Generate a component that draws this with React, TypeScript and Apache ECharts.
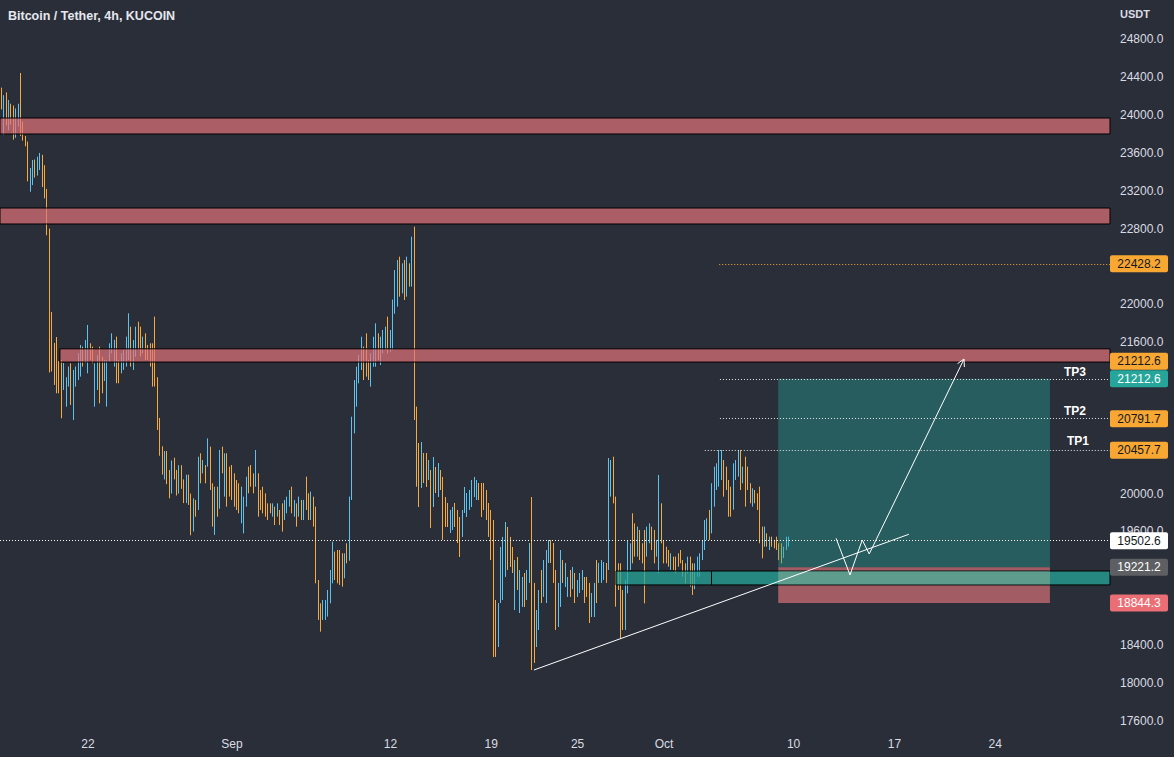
import React, { useEffect, useRef } from "react";
import * as echarts from "echarts";

// ---- OHLC bars, 4h, KUCOIN BTC/USDT: [open, close, low, high] ----
const barsAug16 = [
  [24200,24100,24060,24290],[24100,24180,23790,24210],[24180,23950,23890,24240],[23950,24080,23840,24160],
  [24080,24000,23900,24120],[24000,23800,23740,24100],[23800,23960,23760,24070],[23960,24050,23880,24120],
  [24050,23830,23780,24445],[23830,23760,23730,23930],[23760,23700,23670,23780],[23700,23330,23300,23720],
  [23330,23420,23190,23440],[23420,23500,23260,23525],[23500,23400,23340,23530],[23400,23530,23360,23560],
  [23530,23570,23420,23600],[23570,23300,23240,23580],[23300,23200,23120,23470],[23200,22760,22730,23220],
  [22760,21800,21280,22800],[21800,21350,21290,21920],
];
const barsAug19 = [
  [21550,21200,21148,21592],[21600,21150,21060,21655],[21300,21100,21060,21400],[21350,20900,20796,21412],
  [21100,21350,21095,21380],[21050,21200,20919,21230],[21200,21300,21131,21342],[21350,21000,20937,21377],
  [20950,21250,20778,21307],[21150,21300,21131,21342],[21250,21400,21200,21483],[21350,21500,21236,21571],
  [21500,21400,21342,21553],[21400,21550,21380,21624],[21450,21700,21271,21782],[21550,21450,21412,21588],
  [21500,21400,21377,21553],[21000,21300,20919,21377],[21200,21400,21095,21465],[21450,21050,20954,21553],
  [21300,21100,21060,21447],[21200,21350,21190,21412],[21050,21350,20919,21412],[21400,21500,21390,21588],
  [21500,21650,21483,21694],[21450,21580,21342,21624],[21600,21250,21166,21659],[21350,21200,21166,21412],
  [21300,21400,21271,21483],[21350,21480,21307,21518],[21400,21600,21342,21659],[21550,21800,21412,21905],
  [21700,21400,21342,21764],[21400,21550,21307,21624],[21500,21680,21447,21764],[21700,21550,21518,21817],
  [21650,21480,21450,21764],[21500,21600,21483,21659],[21620,21450,21412,21694],[21500,21450,21412,21571],
  [21500,21400,21342,21588],[21450,21200,21131,21588],[21400,21200,21131,21870],[21200,20750,20673,21230],
];
const barsAug27 = [
  [20750,20450,20400,20800],[20450,20250,20200,20500],[20250,20400,20150,20450],[20400,20150,20100,20450],
  [20150,20050,19950,20250],[20050,20300,20000,20350],[20300,20200,20150,20380],[20200,20050,19980,20250],
  [20050,20250,20000,20300],[20250,20100,20050,20300],[20100,19950,19900,20150],[19950,20150,19900,20200],
  [20150,19950,19880,20200],[19950,19650,19560,20000],[19650,19900,19600,19950],
  [19900,19800,19756,19933],[19830,20300,19827,20390],[20350,20150,20109,20426],[20220,20330,20214,20355],
  [20300,20150,20109,20302],[20290,20500,20285,20584],[20480,20080,20038,20496],[20100,19700,19651,20109],
  [19650,20000,19563,20073],[20050,19850,19756,20073],[19850,20400,19840,20461],[20420,20250,20214,20496],
  [20000,20300,19968,20426],[20350,19950,19862,20426],[20250,20050,19968,20285],[20250,20000,19933,20302],
  [20150,19950,19862,20214],[20100,19900,19827,20144],[20050,19850,19792,20109],[19750,20000,19686,20073],
  [19700,19900,19580,19968],[19900,20100,19862,20179],[20250,20050,20003,20285],[20280,20100,20073,20302],
  [20200,20050,20003,20214],[20100,20400,20073,20461],[20200,19800,19756,20214],[20000,19850,19827,20038],
  [20050,19820,19792,20073],[19950,19800,19756,20003],[19880,19760,19721,19897],[19880,19800,19792,19897],
  [19780,19880,19756,19897],[19850,19700,19668,19862],[19760,19870,19756,19897],[19820,19700,19668,19827],
  [19880,19650,19598,19897],[19750,19900,19721,19933],[19820,19950,19792,19968],[19900,20000,19862,20038],
  [20050,19800,19792,20073],[19780,19900,19756,19933],[19880,19700,19651,19897],[19780,19930,19756,19968],
  [19900,19750,19721,19933],[19750,19900,19721,19933],[20150,19850,19827,20179],[19950,19750,19721,20003],
  [19750,19950,19721,20021],[19950,19750,19651,19968],
];
const barsSep6 = [
  [19800,19100,19052,19862],[19080,18750,18665,19087],[18800,18600,18541,18841],[18680,18850,18665,18876],
  [18700,18860,18665,18876],[18750,18950,18700,18982],[18900,19150,18841,19193],[19100,19450,19052,19492],
  [19380,19150,19087,19387],[19350,19100,19052,19404],[19380,19080,19035,19404],[19300,19050,19017,19369],
  [19150,19330,19105,19369],[19450,19300,19263,19475],[19300,19950,19290,19968],[19950,20780,19933,20813],
  [20700,21150,20637,21200],[20950,21300,20919,21341],[21200,21430,21165,21465],[21350,21620,21306,21658],
  [21520,21250,21200,21553],[21650,21280,21236,21694],[21400,21220,21200,21412],[21150,21450,21130,21482],
  [21350,21620,21341,21658],[21380,21750,21341,21799],[21650,21450,21412,21694],[21400,21620,21359,21658],
  [21500,21700,21482,21729],[21550,21720,21517,21764],[21800,21520,21482,21870],[21520,21700,21500,21729],
  [21550,22000,21517,22050],[22000,22300,21900,22363],[22050,22420,21975,22468],[22450,22100,22081,22504],
  [22150,22380,22116,22433],[22400,22080,22046,22468],[22100,22450,22081,22504],[22400,22220,22187,22433],
  [22220,22650,22187,22715],[22650,20900,20778,22821],[20900,20150,20073,20919],[20400,19950,19858,20535],
];
const barsSep13 = [
  [20100,20480,20060,20545],[20400,20250,20112,20429],[20400,20150,20070,20429],[20150,20300,20144,20355],
  [20230,19700,19637,20249],[19880,20300,19858,20387],[20250,20050,20006,20281],[20000,20250,19964,20323],
  [20220,20100,20038,20249],[20150,19600,19510,20176],[19900,19700,19647,19964],[19850,19720,19647,19901],
  [19650,19780,19584,19827],[19700,19800,19615,19858],[19820,19700,19647,19901],[19780,19550,19478,19827],
  [19700,19400,19330,19753],[19580,19780,19542,19827],[19800,19980,19795,20070],[19780,19920,19753,20006],
  [19850,19980,19827,20038],[19900,20080,19858,20144],[20000,20120,19964,20176],[19980,20100,19932,20144],
  [20100,19980,19932,20112],[20100,19800,19753,20112],[20080,19880,19827,20112],[19980,19760,19721,20038],
  [19850,19600,19542,19901],[19780,19350,19298,19827],[19650,18450,18274,19721],[18850,18400,18274,18876],
  [18450,18800,18379,18844],[18850,19350,18844,19436],[19000,19400,18876,19542],[19200,19600,19119,19700],
  [19600,19250,19193,19647],[19450,19280,19225,19542],[19400,19200,19161,19436],[18900,19200,18770,19298],
  [19300,19000,18981,19330],[18850,19100,18738,19193],[18900,19080,18802,19119],[19100,18850,18802,19161],
  [18900,19100,18876,19193],[19100,19400,19056,19478],[19400,19050,18136,19964],[19050,18600,18210,19056],
  [18500,18700,18379,18770],[18650,18900,18559,18981],[19150,18900,18844,19193],[18950,19200,18908,19298],
  [18900,19300,18844,19404],
];
const barsSep22 = [
  [19300,19480,19267,19510],[19480,19320,19267,19510],[19400,19100,19056,19478],[19150,18700,18559,19193],
  [18700,18950,18590,19056],[18900,19300,18802,19404],[19250,19100,19056,19298],[19050,19200,19013,19267],
  [18950,19080,18908,19119],[19150,18950,18908,19193],[19000,19180,18990,19225],[19150,18900,18844,19161],
  [18920,19050,18908,19087],[19000,19130,18950,19161],[19050,19170,18981,19193],[19100,18900,18844,19119],
  [19080,18950,18908,19119],[19000,18700,18633,19056],[18720,18900,18696,18950],[18800,19000,18696,19056],
  [19250,18900,18844,19298],[19080,19220,19056,19267],[19100,19250,19056,19298],[19150,19230,19087,19277],
  [19250,19100,19056,19267],
];
const barsSep26 = [
  [19200,20250,19193,20376],[20200,20300,19968,20355],[20300,19950,19897,20390],[19950,19000,18805,19968],
  [19200,19000,18981,19263],[19200,18700,18471,19263],[18900,18650,18559,18981],[18650,19000,18559,19087],
  [19000,19400,18946,19510],[19250,19420,19193,19475],[19650,19350,19263,19792],[19600,19400,19334,19686],
  [19400,19580,19334,19651],[19580,19350,19298,19616],[19420,19300,19263,19475],[19500,19000,18840,19616],
  [19350,19600,19334,19651],[19500,19620,19475,19686],[19600,19450,19404,19651],[19550,19300,19263,19616],
  [19350,19480,19334,19510],[19300,19900,19158,20197],[19850,19550,19475,19897],[19500,19320,19263,19510],
  [19420,19300,19263,19439],[19380,19260,19228,19404],[19220,19350,19193,19369],[19320,19220,19193,19334],
  [19300,19180,19158,19334],[19350,19250,19228,19369],[19380,19280,19263,19404],[19280,19150,19122,19298],
  [19250,19080,19052,19263],[19180,19300,19158,19334],[19300,19050,19017,19334],[19150,18980,18929,19263],
  [19000,19200,18990,19263],[19150,19300,19122,19334],[19180,19330,19122,19369],[19300,19480,19298,19510],
  [19420,19650,19404,19721],[19550,19700,19510,19739],[19750,19580,19510,19827],[19600,20050,19580,20109],
  [19950,20200,19862,20285],[20100,20250,20038,20320],[20150,20400,20073,20461],[20250,20420,20144,20461],
  [20350,20050,19968,20355],[20250,20080,20038,20285],[20120,19800,19756,20144],[20050,19820,19756,20073],
  [19850,20250,19830,20320],[20180,20320,20144,20355],[20200,20420,20179,20461],[20430,20080,20038,20461],
  [20150,20270,20109,20285],[20350,19900,19862,20390],[20250,20080,20038,20285],[20080,19930,19897,20109],
  [19900,20020,19862,20056],[20020,19920,19897,20038],[19980,19850,19827,20003],[19980,19520,19475,20073],
  [19620,19400,19316,19651],[19450,19600,19439,19651],[19560,19460,19439,19580],[19430,19530,19404,19545],
  [19530,19460,19439,19545],[19500,19440,19422,19510],[19520,19420,19404,19545],[19450,19330,19298,19475],
  [19420,19300,19263,19475],[19330,19420,19320,19439],[19420,19520,19404,19545],[19470,19502.6,19439,19545],
];
const bars = [...barsAug16, ...barsAug19, ...barsAug27, ...barsSep6, ...barsSep13, ...barsSep22, ...barsSep26];

// ---- axes ----
const dateTickBars = [36, 96, 162, 204, 240, 276, 330, 372, 414];
const dateTickLabels = ["22", "Sep", "12", "19", "25", "Oct", "10", "17", "24"];
// scale labels that are not hidden behind the price tags
const priceTicks = [17600, 18000, 18400, 19600, 20000, 21600, 22000, 22800, 23200, 23600, 24000, 24400, 24800];

// ---- drawings (bar index, price) ----
const resistanceZones = [ // [fromBar, low, high]
  [-1, 23800, 23969],
  [-1, 22849, 23018],
  [24.3, 21390, 21530],
];
const demandZone = [256, 295.8, 19035, 19182]; // fromBar, splitBar, low, high
const positionBox = [323.6, 436.8]; // fromBar, toBar
const entryPrice = 19221.2;
const targetPrice = 21212.6;
const stopPrice = 18844.3;
const levelPrices = [22428.2, 21212.6, 20791.7, 20457.7, 19502.6];
const levelFromBars = [299, 299.3, 299.3, 293, -1];
const tpNames = ["TP3", "TP2", "TP1"];
const tpPrices = [21212.6, 20791.7, 20457.7];
const trendLine = [[221.8, 18136], [378, 19570]];
const projection = [[347.7, 19528], [353.5, 19140], [358.6, 19510], [361.5, 19362], [401, 21422]];
const tagPrices = [22428.2, 21212.6, 21212.6, 20791.7, 20457.7, 19502.6, 19221.2, 18844.3];

// ---- styles ----
const BG = "#2a2e39";
const UP = "#5cc3ee";
const DOWN = "#f7a93c";
const TXT = "#dadce2";
const ORANGE = "#f8a832";
const FONT = "'Liberation Sans', Arial, sans-serif";
const X_MIN = -0.667;
const X_MAX = 461.83;
const Y_MIN = 17502;
const Y_MAX = 25216;

const tagStyles = [
  { bg: ORANGE, fg: "#131722", shift: 0 },
  { bg: ORANGE, fg: "#131722", shift: -17.5 },
  { bg: "#26a69a", fg: "#ffffff", shift: 0 },
  { bg: ORANGE, fg: "#131722", shift: 0 },
  { bg: ORANGE, fg: "#131722", shift: 0 },
  { bg: "#ffffff", fg: "#131722", shift: 0 },
  { bg: "#5d5f63", fg: "#ffffff", shift: 0 },
  { bg: "#eb6e75", fg: "#ffffff", shift: 0 },
];
const levelColors = [ORANGE, "#e8e8e8", "#e8e8e8", "#e8e8e8", "#ffffff"];
const tpOffsets = [[1064, -7], [1064, -8], [1067, -9]];

function area(x1: number, x2: number, lo: number, hi: number, style: any) {
  return [{ coord: [x1 < 0 ? X_MIN : x1, hi], itemStyle: style }, { coord: [x2, lo] }];
}

export default function App() {
  const ref = useRef<HTMLDivElement>(null);
  useEffect(() => {
    document.body.style.margin = "0";
    const chart = echarts.init(ref.current!, null, { renderer: "svg" });
    const redZone = { color: "rgba(228,116,121,0.7)", borderColor: "#000", borderWidth: 1 };
    const demandStyle = { color: "rgba(38,166,154,0.75)", borderColor: "#000", borderWidth: 1 };
    const option: any = {
      animation: false,
      backgroundColor: BG,
      grid: { left: 0, right: 64, top: 0, bottom: 27 },
      xAxis: {
        type: "value", min: X_MIN, max: X_MAX,
        axisLine: { show: false }, axisTick: { show: false }, splitLine: { show: false },
        axisLabel: {
          customValues: dateTickBars,
          formatter: (v: number) => {
            const k = dateTickBars.indexOf(Math.round(v));
            return k >= 0 ? dateTickLabels[k] : "";
          },
          color: TXT, fontSize: 12, fontFamily: FONT, margin: 8,
        },
      },
      yAxis: {
        type: "value", position: "right", min: Y_MIN, max: Y_MAX,
        axisLine: { show: false }, axisTick: { show: false }, splitLine: { show: false },
        axisLabel: {
          customValues: priceTicks,
          formatter: (v: number) => v.toFixed(1),
          color: TXT, fontSize: 12, fontFamily: FONT, margin: 10, align: "left",
        },
      },
      series: [
        {
          type: "candlestick", z: 2,
          data: bars.map((b, i) => [i, b[0], b[1], b[2], b[3]]),
          encode: { x: 0, y: [1, 2, 3, 4] },
          barWidth: 1,
          itemStyle: { color: UP, color0: DOWN, borderColor: UP, borderColor0: DOWN, borderWidth: 1 },
        },
        {
          type: "line", data: [], silent: true,
          markArea: {
            silent: true, z: 3, label: { show: false },
            data: [
              ...resistanceZones.map((z) => area(z[0], X_MAX, z[1], z[2], redZone)),
              area(positionBox[0], positionBox[1], entryPrice, targetPrice, { color: "rgba(38,166,154,0.4)" }),
              area(positionBox[0], positionBox[1], stopPrice, entryPrice, { color: "rgba(228,116,121,0.65)" }),
            ],
          },
        },
        {
          type: "line", data: [], silent: true,
          markArea: {
            silent: true, z: 4, label: { show: false },
            data: [
              area(demandZone[0], demandZone[1], demandZone[2], demandZone[3], demandStyle),
              area(demandZone[1], X_MAX, demandZone[2], demandZone[3], demandStyle),
            ],
          },
        },
        {
          type: "line", data: [], silent: true,
          markArea: {
            silent: true, z: 5, label: { show: false },
            data: [area(positionBox[0], positionBox[1], demandZone[2] + 6, demandZone[3] - 6, { color: "#5e9d8e" })],
          },
        },
        {
          type: "line", data: [], silent: true,
          markLine: {
            silent: true, z: 6, symbol: ["none", "none"], label: { show: false },
            data: levelPrices.map((p, k) => [
              { coord: [levelFromBars[k] < 0 ? X_MIN : levelFromBars[k], p], lineStyle: { color: levelColors[k], width: 1, type: [1, 2] } },
              { coord: [X_MAX, p] },
            ]),
          },
        },
        {
          type: "line", z: 7, silent: true, symbol: "none",
          data: trendLine, lineStyle: { color: "#ffffff", width: 1 },
        },
        {
          type: "line", z: 7, silent: true, symbol: "none",
          data: projection, lineStyle: { color: "#ffffff", width: 1 },
        },
      ],
    };
    chart.setOption(option);

    const px = (b: number) => chart.convertToPixel({ xAxisIndex: 0 }, b) as number;
    const py = (v: number) => chart.convertToPixel({ yAxisIndex: 0 }, v) as number;
    const elements: any[] = [];
    elements.push({
      type: "text", z: 100, left: 8, top: 9,
      style: { text: "Bitcoin / Tether, 4h, KUCOIN", fill: "#e6e8ee", fontSize: 12.5, fontWeight: "bold", fontFamily: FONT },
    });
    elements.push({
      type: "text", z: 100, left: 1120, top: 8,
      style: { text: "USDT", fill: TXT, fontSize: 11, fontWeight: "bold", fontFamily: FONT },
    });
    tpNames.forEach((n, k) => {
      elements.push({
        type: "text", z: 100, x: tpOffsets[k][0], y: py(tpPrices[k]) + tpOffsets[k][1],
        style: { text: n, fill: "#ffffff", fontSize: 12, fontWeight: "bold", fontFamily: FONT, verticalAlign: "middle", textVerticalAlign: "middle" },
      });
    });
    tagPrices.forEach((p, k) => {
      const s = tagStyles[k];
      const cy = py(p) + s.shift;
      elements.push({ type: "rect", z: 100, shape: { x: 1110, y: cy - 8.5, width: 58, height: 17, r: 2 }, style: { fill: s.bg } });
      elements.push({
        type: "text", z: 101, x: 1139, y: cy,
        style: { text: p.toFixed(1), fill: s.fg, fontSize: 12, fontFamily: FONT, align: "center", verticalAlign: "middle", textAlign: "center", textVerticalAlign: "middle" },
      });
    });
    // arrow head at the end of the projected path
    const n = projection.length;
    const tx = px(projection[n - 1][0]), ty = py(projection[n - 1][1]);
    const sx = px(projection[n - 2][0]), sy = py(projection[n - 2][1]);
    const len = Math.hypot(tx - sx, ty - sy);
    const bx = (sx - tx) / len, by = (sy - ty) / len;
    const rot = (a: number) => [tx + 8 * (bx * Math.cos(a) - by * Math.sin(a)), ty + 8 * (bx * Math.sin(a) + by * Math.cos(a))];
    elements.push({
      type: "polyline", z: 100,
      shape: { points: [rot(0.5), [tx, ty], rot(-0.5)] },
      style: { stroke: "#ffffff", lineWidth: 1, fill: null },
    });
    chart.setOption({ graphic: { elements } });
    return () => chart.dispose();
  }, []);
  return <div ref={ref} style={{ width: 1174, height: 757 }} />;
}
